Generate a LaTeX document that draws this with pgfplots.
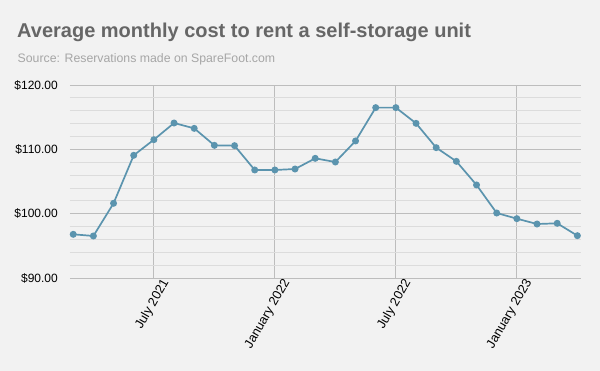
\documentclass[border=0pt]{standalone}
\usepackage{pgfplots}
\pgfplotsset{compat=1.18}
\usepackage{fontspec}
\setmainfont{Liberation Sans}
\definecolor{bg}{HTML}{F2F2F2}
\definecolor{titlec}{HTML}{666666}
\definecolor{subc}{HTML}{A6A6A6}
\definecolor{linec}{HTML}{5B94AE}
\definecolor{majg}{HTML}{BDBDBD}
\definecolor{ming}{HTML}{DCDCDC}
\begin{document}
\begin{tikzpicture}
\fill[bg] (0pt,0pt) rectangle (600pt,371pt);
\node[anchor=base west,inner sep=0pt,text=titlec,font=\fontsize{20}{22}\selectfont\bfseries] at (17pt,333.5pt) {Average monthly cost to rent a self-storage unit};
\node[anchor=base west,inner sep=0pt,text=subc,font=\fontsize{12.3}{15}\selectfont] at (17.5pt,308pt) {Source: Reservations made on SpareFoot.com};
\begin{axis}[
  at={(70pt,93pt)}, anchor=south west,
  scale only axis, width=511pt, height=193pt,
  xmin=-0.16, xmax=25.18, ymin=90, ymax=120,
  axis line style={draw=none},
  ytick={90,100,110,120},
  minor ytick={92,94,96,98,102,104,106,108,112,114,116,118},
  yticklabels={\$90.00,\$100.00,\$110.00,\$120.00},
  xtick={4,10,16,22},
  xticklabels={July 2021,January 2022,July 2022,January 2023},
  x tick label style={rotate=60,anchor=east,font=\fontsize{12.8}{15}\selectfont,inner sep=1pt, xshift=5pt, yshift=-12pt},
  y tick label style={font=\fontsize{12}{14}\selectfont,inner sep=0pt,xshift=-12pt},
  major tick length=0pt, minor tick length=0pt,
  xmajorgrids, ymajorgrids, yminorgrids,
  major grid style={majg,line width=0.8pt},
  minor grid style={ming,line width=0.8pt},
  clip=false,
]
\addplot[linec, line width=1.7pt, mark=*, mark size=2.6pt, mark options={fill=linec,draw=linec}] coordinates {
(0,96.79) (1,96.53) (2,101.61) (3,109.07) (4,111.50) (5,114.09) (6,113.26) (7,110.62) (8,110.57) (9,106.79) (10,106.79) (11,106.94) (12,108.60) (13,108.03) (14,111.30) (15,116.48) (16,116.48) (17,114.04) (18,110.26) (19,108.13) (20,104.46) (21,100.10) (22,99.22) (23,98.39) (24,98.50) (25,96.58)
};
\end{axis}
\end{tikzpicture}
\end{document}
